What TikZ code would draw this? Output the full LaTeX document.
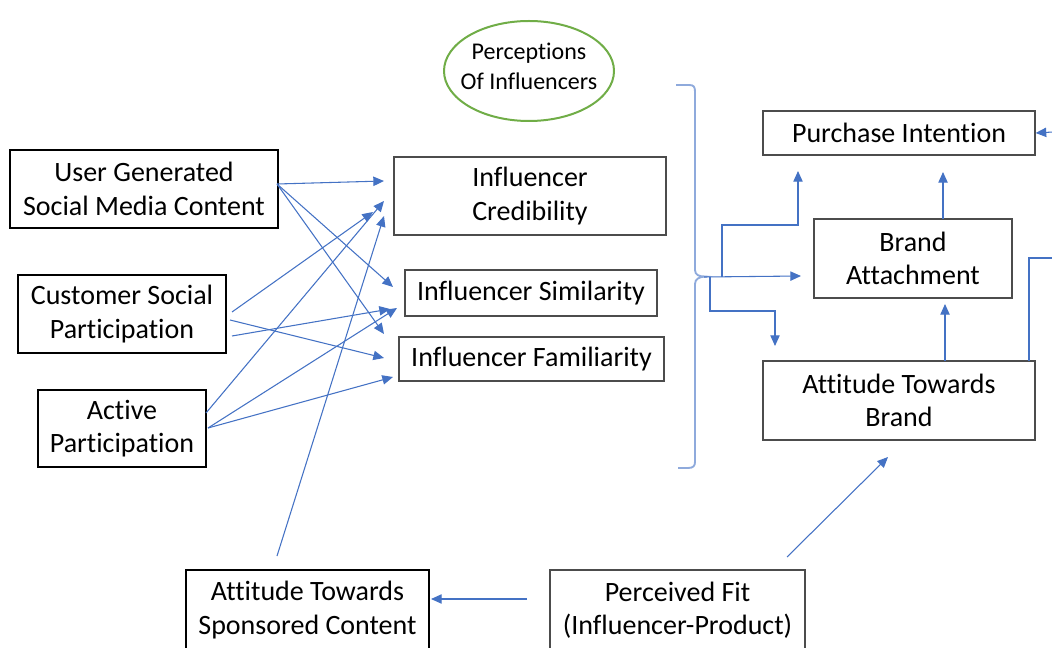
\documentclass[tikz,border=0pt]{standalone}
\usepackage{fontspec}
\setmainfont{Carlito}[Ligatures=NoCommon]
\usetikzlibrary{arrows.meta}

\definecolor{linkblue}{HTML}{4472C4}
\definecolor{bracecol}{HTML}{8FAADC}
\definecolor{ovalgreen}{HTML}{70AD47}

\begin{document}
\begin{tikzpicture}[x=0.75pt,y=-0.75pt,
  box/.style={align=center, inner sep=0pt, font=\fontsize{21}{25}\selectfont},
  thickbox/.style={box, draw=black, line width=1.6pt},
  thinbox/.style={box, draw=black!70, line width=0.9pt},
  link/.style={color=linkblue, line width=0.8pt, -{Triangle[length=8pt,width=7pt]}},
  wire/.style={color=linkblue, line width=0.8pt}
]
  \useasboundingbox (0,0) rectangle (1052,648);
  \clip (0,0) rectangle (1052,648);

  % antecedents
  \node[thickbox, minimum width=201pt, minimum height=58.5pt] (ugc) at (144,189) {User Generated\\Social Media Content};
  \node[thickbox, minimum width=156pt, minimum height=58.5pt] (csp) at (122,314) {Customer Social\\Participation};
  \node[thickbox, minimum width=126pt, minimum height=57.75pt] (act) at (122,428.5) {Active\\Participation};
  \node[thickbox, minimum width=182.25pt, minimum height=60pt] (ats) at (307.5,610) {Attitude Towards\\Sponsored Content};

  % perceptions of influencers
  \node[align=center, font=\fontsize{18}{22.5}\selectfont] (perc) at (529,66) {Perceptions\\Of Influencers};
  \draw[ovalgreen, line width=1.5pt] (529,71) ellipse [x radius=63.75pt, y radius=37.5pt];
  \node[thinbox, minimum width=204pt, minimum height=58.5pt] (cred) at (530,196) {Influencer\\Credibility};
  \node[thinbox, minimum width=189pt, minimum height=34.5pt] (sim) at (531,293) {Influencer Similarity};
  \node[thinbox, minimum width=198.75pt, minimum height=33pt] (fam) at (531.5,359) {Influencer Familiarity};

  % outcomes
  \node[thinbox, minimum width=204pt, minimum height=33pt] (pi) at (899,133) {Purchase Intention};
  \node[thinbox, minimum width=148.5pt, minimum height=59.25pt] (ba) at (913,258.5) {Brand\\Attachment};
  \node[thinbox, minimum width=204pt, minimum height=59.25pt] (atb) at (899,400.5) {Attitude Towards\\Brand};
  \node[thinbox, minimum width=191.25pt, minimum height=60pt] (pf) at (677.5,610) {Perceived Fit\\(Influencer-Product)};

  % connector ends
  \coordinate (ugc-out) at (277,184);
  \coordinate (csp-out1) at (232,312);
  \coordinate (csp-out2) at (230,320);
  \coordinate (csp-out3) at (232,336);
  \coordinate (act-out1) at (206,413);
  \coordinate (act-out2) at (208,428);
  \coordinate (ats-out) at (277,556);
  \coordinate (cred-in1) at (384,181);
  \coordinate (cred-in2) at (373,212);
  \coordinate (cred-in3) at (384,201);
  \coordinate (cred-in4) at (384,216);
  \coordinate (sim-in1) at (393,287);
  \coordinate (sim-in2) at (390,309);
  \coordinate (sim-in3) at (397,308);
  \coordinate (fam-in1) at (384,334);
  \coordinate (fam-in2) at (384,358);
  \coordinate (fam-in3) at (393,377);

  \path[link]
  (ugc-out) edge (cred-in1) edge (sim-in1) edge (fam-in1)
  (csp-out1) edge (cred-in2)
  (csp-out2) edge (fam-in2)
  (csp-out3) edge (sim-in2)
  (act-out1) edge (cred-in3)
  (act-out2) edge (sim-in3) edge (fam-in3)
  (ats-out) edge (cred-in4)
  ;

  % brace round the perceptions
  \draw[bracecol, line width=1.4pt] (676,85) -- (689,85) .. controls (694,85) and (695,87) .. (695,92)
    -- (695,270) .. controls (695,275) and (699,276.5) .. (705,276.5)
    .. controls (699,277) and (695,279) .. (695,284)
    -- (695,462) .. controls (695,466) and (693,468) .. (688,468) -- (678,468);
  \coordinate (brace) at (704,277);
  \coordinate (brace-up) at (722,277);
  \coordinate (brace-down) at (710,277);
  \coordinate (ba-in) at (801,276);
  \coordinate (pi-in) at (798,171);
  \coordinate (atb-in) at (775,346);

  \draw[link] (brace) -- (ba-in);
  \draw[link] (brace-up) |- (pi-in |- 0,225) -- (pi-in);
  \draw[link] (brace-down) |- (atb-in |- 0,311) -- (atb-in);

  % outcome chain
  \coordinate (atb-up) at (945,361);
  \coordinate (ba-in2) at (945,304);
  \coordinate (ba-up) at (943,219);
  \coordinate (pi-in2) at (943,172);
  \draw[link] (atb-up) -- (ba-in2);
  \draw[link] (ba-up) -- (pi-in2);

  % loop leaving the page on the right
  \coordinate (atb-out) at (1029,361);
  \coordinate (off-a) at (1053,258);
  \coordinate (off-b) at (1053,132);
  \draw[wire] (atb-out) |- (off-a);
  \draw[link] (off-b) -- (pi.east);

  % perceived fit
  \coordinate (pf-left) at (527,599);
  \coordinate (ats-in) at (431,599);
  \coordinate (pf-up) at (787,557);
  \coordinate (atb-in2) at (888,457);
  \draw[link] (pf-left) -- (ats-in);
  \draw[link] (pf-up) -- (atb-in2);
\end{tikzpicture}
\end{document}
